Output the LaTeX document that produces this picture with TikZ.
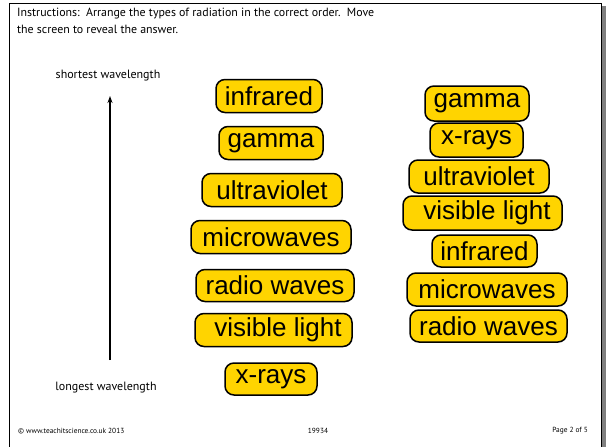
\documentclass[tikz,border=0pt]{standalone}
\usepackage{fontspec}
\usetikzlibrary{arrows.meta}
\setmainfont{Liberation Sans}
\newfontfamily\gillfont{PT Sans}
\definecolor{boxgold}{RGB}{255,212,0}
\definecolor{shadowgrey}{RGB}{128,128,128}
\tikzset{
  card/.style={draw=black, line width=1.5pt, fill=boxgold, rounded corners=9pt,
    inner sep=0pt, minimum height=33pt, font=\fontsize{26}{26}\selectfont},
  small/.style={font=\gillfont\fontsize{12}{14}\selectfont, inner sep=0pt},
  instr/.style={font=\gillfont\fontsize{11.9}{14}\selectfont, inner sep=0pt},
  tiny/.style={font=\gillfont\fontsize{7.4}{8}\selectfont, inner sep=0pt},
}
\begin{document}
\begin{tikzpicture}[x=1pt,y=-1pt]
\useasboundingbox (0,0) rectangle (606,447);
% page frame
\fill[shadowgrey] (602,6) rectangle (606,447);
\draw[line width=1pt] (9,447) -- (9,3.5) -- (601,3.5) -- (601,447);
% instructions
\node[instr, anchor=west] (ins1) at (17,13.5) {Instructions:\ \ Arrange the types of radiation in the correct order.\ \ Move};
\node[instr, anchor=west] (ins2) at (17,29) {the screen to reveal the answer.};
% axis
\node[small] (short) at (108,76) {shortest wavelength};
\node[small] (long) at (106,388) {longest wavelength};
\coordinate (abot) at (110,360);
\coordinate (atop) at (110,96);
\draw[line width=1.6pt, -{Stealth[length=7pt,width=5pt]}] (abot) -- (atop);
% left column (scrambled)
\node[card, minimum width=106pt] (l1) at (269,96) {infrared};
\node[card, minimum width=104pt] (l2) at (271,143) {gamma};
\node[card, minimum width=140pt] (l3) at (272,190) {ultraviolet};
\node[card, minimum width=160pt] (l4) at (271,237) {microwaves};
\node[card, minimum width=158pt, minimum height=32pt] (l5) at (275,285.5) {radio waves};
\node[card, minimum width=157pt] (l6) at (273.5,330) {\hspace{9pt}visible light};
\node[card, minimum width=92pt, minimum height=32pt] (l7) at (271,379) {x-rays};
% right column (answer)
\node[card, minimum width=104pt, minimum height=35pt] (r1) at (477,103.5) {gamma};
\node[card, minimum width=93pt, minimum height=34pt] (r2) at (476.5,140) {x-rays};
\node[card, minimum width=140pt] (r3) at (479,176.5) {ultraviolet};
\node[card, minimum width=159pt, minimum height=34pt] (r4) at (482.5,213) {\hspace{9pt}visible light};
\node[card, minimum width=105pt, minimum height=32pt] (r5) at (484.5,251) {infrared};
\node[card, minimum width=160pt] (r6) at (487,289.5) {microwaves};
\node[card, minimum width=157pt, minimum height=32pt] (r7) at (488.5,326) {radio waves};
% footer
\node[tiny, anchor=west] (f1) at (18,431) {\textcopyright\ www.teachitscience.co.uk 2013};
\node[tiny] (f2) at (318,431) {19934};
\node[tiny, anchor=east] (f3) at (588,431) {Page 2 of 5};
\end{tikzpicture}
\end{document}
